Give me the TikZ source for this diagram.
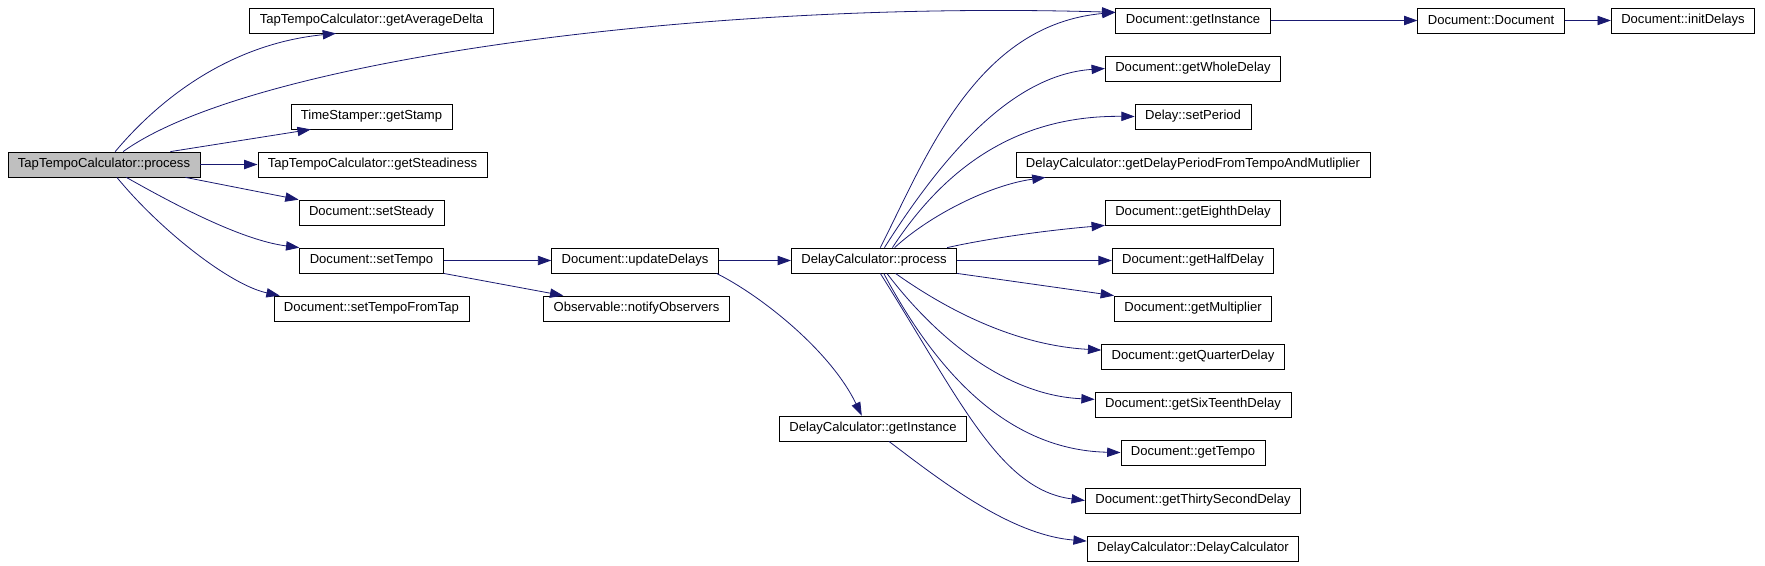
\documentclass[tikz,border=0pt]{standalone}
\usepackage{fontspec}
\setmainfont{Liberation Sans}
\usetikzlibrary{arrows.meta}
\definecolor{edgeblue}{RGB}{25,25,112}
\definecolor{boxgray}{RGB}{191,191,191}
\tikzset{func/.style={draw, line width=0.6pt, inner xsep=7.5pt, inner ysep=0pt, minimum height=18.75pt}}
\tikzset{calls/.style={-{Triangle[length=10pt, width=7pt]}, draw=edgeblue, line width=0.6pt}}

\begin{document}
\begin{tikzpicture}[x=0.75pt, y=-0.75pt, every node/.style={font=\fontsize{9.8}{11}\selectfont}]
    \useasboundingbox (0,0) rectangle (1765,565);

    % Caller
    \node[func, fill=boxgray] (proc) at (104,164.5) {TapTempoCalculator::process};

    % First level
    \node[func] (avg) at (371.5,20.5) {TapTempoCalculator::getAverageDelta};
    \node[func] (stamp) at (371.5,116.5) {TimeStamper::getStamp};
    \node[func] (steadi) at (372.5,164.5) {TapTempoCalculator::getSteadiness};
    \node[func] (steady) at (371.5,212.5) {Document::setSteady};
    \node[func] (settempo) at (371.5,260.5) {Document::setTempo};
    \node[func] (fromtap) at (371.5,308.5) {Document::setTempoFromTap};

    % Second and third level
    \node[func] (update) at (635,260.5) {Document::updateDelays};
    \node[func] (notify) at (636.5,308.5) {Observable::notifyObservers};
    \node[func] (dcproc) at (874,260.5) {DelayCalculator::process};
    \node[func] (dcinst) at (873,428.5) {DelayCalculator::getInstance};

    % Right column
    \node[func] (docinst) at (1193,20.5) {Document::getInstance};
    \node[func] (whole) at (1193,68.5) {Document::getWholeDelay};
    \node[func] (period) at (1193,116.5) {Delay::setPeriod};
    \node[func] (tmult) at (1193,164.5) {DelayCalculator::getDelayPeriodFromTempoAndMutliplier};
    \node[func] (eighth) at (1193,212.5) {Document::getEighthDelay};
    \node[func] (half) at (1193,260.5) {Document::getHalfDelay};
    \node[func] (mult) at (1193,308.5) {Document::getMultiplier};
    \node[func] (quarter) at (1193,356.5) {Document::getQuarterDelay};
    \node[func] (sixteenth) at (1193,404.5) {Document::getSixTeenthDelay};
    \node[func] (gettempo) at (1193,452.5) {Document::getTempo};
    \node[func] (thirty) at (1193,500.5) {Document::getThirtySecondDelay};
    \node[func] (dcctor) at (1193,548.5) {DelayCalculator::DelayCalculator};

    \node[func] (doc) at (1491,20.5) {Document::Document};
    \node[func] (init) at (1683,20.5) {Document::initDelays};

    % Calls from TapTempoCalculator::process
    \draw[calls] (proc.49) .. controls (150,110) and (220,45) .. (avg.200);
    \draw[calls] (proc.34) .. controls (250,60) and (700,0) .. (docinst.174);
    \draw[calls] (proc.11) -- (stamp.192);
    \draw[calls] (proc) -- (steadi);
    \draw[calls] (proc.-9) -- (steady.170);
    \draw[calls] (proc.-30) .. controls (170,202) and (240,240) .. (settempo.north west);
    \draw[calls] (proc.-45) .. controls (160,230) and (230,285) .. (fromtap.172);

    % Document::setTempo and Document::updateDelays
    \draw[calls] (settempo) -- (update);
    \draw[calls] (settempo.south east) -- (notify.170);
    \draw[calls] (update) -- (dcproc);
    \draw[calls] (update.-9) .. controls (760,295) and (830,350) .. (dcinst.131);
    \draw[calls] (dcinst.-39) .. controls (940,480) and (1010,535) .. (dcctor.176);

    % Calls from DelayCalculator::process
    \draw[calls] (dcproc.64) .. controls (925,160) and (975,25) .. (docinst.174);
    \draw[calls] (dcproc.51) .. controls (940,160) and (1010,75) .. (whole.west);
    \draw[calls] (dcproc.35) .. controls (940,175) and (1010,115) .. (period.west);
    \draw[calls] (dcproc.32) .. controls (930,215) and (990,185) .. (tmult.185);
    \draw[calls] (dcproc.10) .. controls (990,238) and (1050,230) .. (eighth.south west);
    \draw[calls] (dcproc) -- (half);
    \draw[calls] (dcproc.south east) -- (mult.north west);
    \draw[calls] (dcproc.-31) .. controls (940,305) and (1010,345) .. (quarter.176);
    \draw[calls] (dcproc.-45) .. controls (930,330) and (1000,395) .. (sixteenth.177);
    \draw[calls] (dcproc.-53) .. controls (930,360) and (1000,450) .. (gettempo.west);
    \draw[calls] (dcproc.-64) .. controls (960,400) and (1000,490) .. (thirty.west);

    % Document::getInstance chain
    \draw[calls] (docinst) -- (doc);
    \draw[calls] (doc) -- (init);
\end{tikzpicture}
\end{document}
